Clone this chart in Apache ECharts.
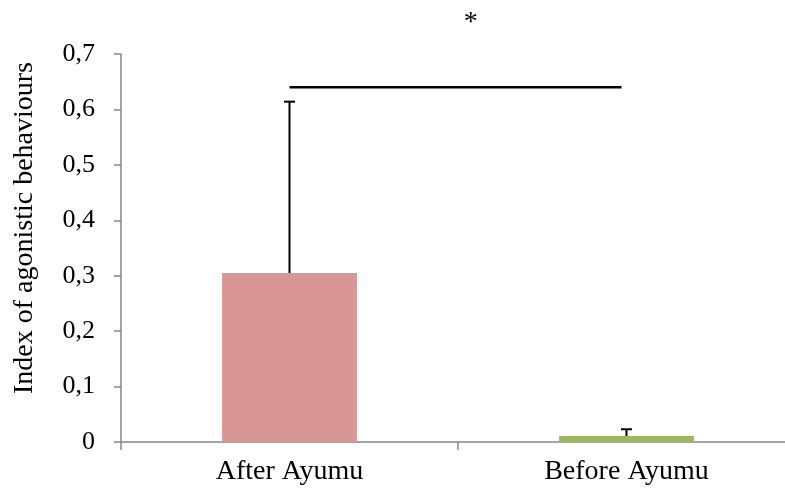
<!DOCTYPE html>
<html>
<head>
<meta charset="utf-8">
<script src="https://cdn.jsdelivr.net/npm/echarts@6/dist/echarts.min.js"></script>
<style>
  html, body { margin: 0; padding: 0; background: #fff; }
  #chart { width: 785px; height: 488px; }
</style>
</head>
<body>
<div id="chart"></div>
<script>
// Group labels and mean index values
const categories = ['After Ayumu', 'Before Ayumu'];
const means = [0.305, 0.011];
// Upper error (standard deviation) for each group
const errors = [0.309, 0.012];
const barColors = ['#D99694', '#9BBB59'];
// Significance bracket between the two groups
const significance = [{ from: 0, to: 1, y: 0.64, mark: '*', markY: 0.756 }];

const FONT = '"Liberation Serif", "Times New Roman", serif';
const AXIS_GREY = '#868686';

const chart = echarts.init(document.getElementById('chart'));

chart.setOption({
  animation: false,
  backgroundColor: '#ffffff',
  grid: { left: 121, top: 54, width: 674, bottom: 46, containLabel: false, outerBoundsMode: 'none' },
  xAxis: {
    type: 'category',
    data: categories,
    axisLine: { lineStyle: { color: AXIS_GREY, width: 1.5 } },
    axisTick: { show: true, length: 8, inside: false, lineStyle: { color: AXIS_GREY, width: 1.5 } },
    axisLabel: { color: '#000', fontFamily: FONT, fontSize: 28, margin: 16 }
  },
  yAxis: {
    type: 'value',
    min: 0,
    max: 0.7,
    interval: 0.1,
    name: 'Index of agonistic behaviours',
    nameLocation: 'middle',
    nameGap: 82,
    nameTextStyle: { color: '#000', fontFamily: FONT, fontSize: 28, padding: [0, 0, 0, 40] },
    splitLine: { show: false },
    axisLine: { show: true, lineStyle: { color: AXIS_GREY, width: 1.5 } },
    axisTick: { show: true, length: 7, lineStyle: { color: AXIS_GREY, width: 1.5 } },
    axisLabel: {
      color: '#000', fontFamily: FONT, fontSize: 26, margin: 26,
      formatter: v => (v === 0 ? '0' : v.toFixed(1).replace('.', ','))
    }
  },
  series: [
    {
      type: 'bar',
      data: means.map((v, i) => ({ value: v, itemStyle: { color: barColors[i] } })),
      barWidth: '40%',
      z: 2
    },
    {
      // upper error bars with a small cap
      type: 'custom',
      data: means.map((m, i) => [i, m, m + errors[i]]),
      renderItem: (params, api) => {
        const base = api.coord([api.value(0), api.value(1)]);
        const top = api.coord([api.value(0), api.value(2)]);
        const half = 5.5;
        const style = { stroke: '#000', lineWidth: 2 };
        return {
          type: 'group',
          children: [
            { type: 'line', shape: { x1: base[0], y1: base[1], x2: top[0], y2: top[1] }, style },
            { type: 'line', shape: { x1: top[0] - half, y1: top[1], x2: top[0] + half, y2: top[1] }, style }
          ]
        };
      },
      z: 3
    },
    {
      // significance bracket and its star
      type: 'custom',
      clip: false,
      data: significance.map(s => [s.from, s.to, s.y, s.markY]),
      renderItem: (params, api) => {
        const a = api.coord([api.value(0), api.value(2)]);
        const b = api.coord([api.value(1), api.value(2)]);
        const starY = api.coord([api.value(0), api.value(3)])[1];
        const starX = a[0] + (b[0] - a[0]) * 0.538;
        return {
          type: 'group',
          children: [
            { type: 'line', shape: { x1: a[0], y1: a[1], x2: b[0] - 5, y2: b[1] }, style: { stroke: '#000', lineWidth: 2.5 } },
            {
              type: 'text',
              style: {
                text: significance[params.dataIndex].mark,
                x: starX, y: starY,
                align: 'center', verticalAlign: 'middle',
                fill: '#000', font: '28px ' + FONT
              }
            }
          ]
        };
      },
      z: 4
    }
  ]
});
</script>
</body>
</html>
